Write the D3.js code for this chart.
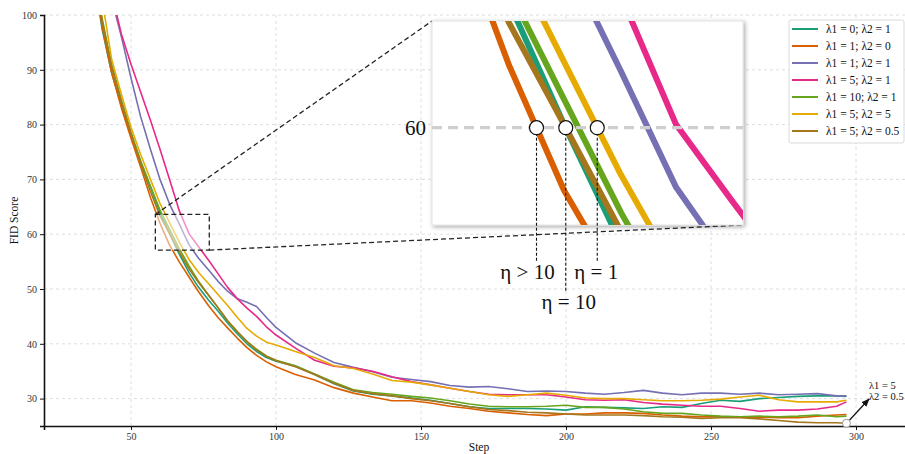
<!DOCTYPE html>
<html>
<head>
<meta charset="utf-8">
<script src="https://cdn.jsdelivr.net/npm/d3@7"></script>
<style>
  body { margin: 0; background: #fff; }
  svg text { font-family: "Liberation Serif", "DejaVu Serif", serif; }
</style>
</head>
<body>
<div id="chart"></div>
<script>
// ---- data ----
const steps = [33.3, 36.7, 40, 43.3, 46.7, 50, 53.3, 56.7, 60, 63.3, 66.7, 70, 73.3, 76.7, 80, 83.3, 86.7, 90, 93.3, 96.7, 100,
  106.7, 113.3, 120, 126.7, 133.3, 140, 146.7, 153.3, 160, 166.7, 173.3, 180, 186.7, 193.3, 200, 206.7, 213.3, 220, 226.7,
  233.3, 240, 246.7, 253.3, 260, 266.7, 273.3, 280, 286.7, 293.3, 296.7];

const seriesNames = ['λ1 = 0; λ2 = 1', 'λ1 = 1; λ2 = 0', 'λ1 = 1; λ2 = 1', 'λ1 = 5; λ2 = 1',
  'λ1 = 10; λ2 = 1', 'λ1 = 5; λ2 = 5', 'λ1 = 5; λ2 = 0.5'];

const fid_l0_1 = [124, 109, 97.5, 89.5, 83.5, 78.3, 73.3, 68.6, 64.0, 60.1, 56.3, 53.0, 50.3, 48.0, 46.0, 43.8, 41.8, 40.0, 38.6, 37.5, 36.8,
  35.9, 34.4, 32.7, 31.4, 30.8, 30.5, 30.1, 29.7, 29.1, 28.5, 28.2, 28.2, 28.2, 28.1, 27.9, 28.5, 28.4, 28.3, 28.2,
  28.5, 28.4, 29.1, 29.7, 29.5, 30.0, 30.2, 30.4, 30.5, 30.5, 30.4];
const fid_l1_0 = [125, 110, 98, 89.5, 83, 77.5, 72.3, 66.7, 62.0, 58.0, 54.9, 52.2, 49.5, 47.0, 44.8, 42.9, 41.0, 39.3, 37.9, 36.7, 35.8,
  34.4, 33.4, 32.0, 31.0, 30.3, 29.6, 29.6, 29.2, 28.6, 28.2, 27.7, 27.4, 27.1, 26.9, 27.2, 27.2, 27.4, 27.4, 27.3,
  27.0, 26.8, 26.7, 26.7, 26.6, 26.6, 26.5, 26.5, 26.8, 27.0, 27.1];
const fid_l1_1 = [140, 125, 112, 103, 96, 88.5, 81.5, 75.5, 70.0, 65.5, 61.8, 58.1, 55.6, 53.5, 51.4, 49.6, 48.2, 47.6, 46.8, 44.8, 43.0,
  40.2, 38.3, 36.6, 35.7, 34.9, 33.9, 33.5, 33.1, 32.4, 32.1, 32.2, 31.8, 31.3, 31.4, 31.3, 31.0, 30.8, 31.1, 31.5,
  31.0, 30.7, 31.0, 31.0, 30.8, 31.0, 30.7, 30.8, 30.9, 30.5, 30.5];
const fid_l5_1 = [148, 132, 118, 104, 96.5, 91.0, 86.0, 80.8, 75.5, 70.0, 64.2, 60.1, 57.7, 55.3, 52.8, 50.3, 48.2, 46.5, 45.0, 43.1, 41.6,
  39.2, 37.0, 35.9, 35.6, 35.0, 34.0, 33.1, 32.5, 31.9, 31.3, 30.8, 30.7, 30.7, 30.7, 30.3, 29.8, 29.7, 29.8, 29.3,
  29.0, 28.8, 28.6, 28.6, 28.2, 27.7, 27.9, 27.9, 28.1, 28.6, 29.4];
const fid_l10_1 = [127, 112, 99.5, 91, 84.5, 78.6, 73.4, 68.8, 64.4, 60.9, 57.3, 54.2, 51.4, 48.9, 46.6, 44.2, 42.2, 40.4, 39.0, 37.8, 37.0,
  36.0, 34.5, 33.0, 31.6, 31.1, 30.8, 30.4, 30.1, 29.6, 29.0, 28.6, 28.5, 28.5, 28.6, 28.8, 28.4, 28.4, 28.1, 27.6,
  27.3, 27.3, 27.0, 26.8, 26.7, 26.8, 26.7, 26.8, 27.0, 26.7, 26.8];
const fid_l5_5 = [131, 116, 103, 92, 85.5, 79.5, 74.6, 70.0, 65.6, 62.1, 58.5, 55.4, 53.0, 51.0, 49.0, 47.0, 44.8, 42.8, 41.4, 40.3, 39.8,
  38.6, 37.5, 36.0, 35.5, 34.5, 33.3, 33.0, 32.5, 31.9, 31.3, 30.7, 30.4, 30.7, 31.0, 30.6, 30.1, 30.0, 30.0, 29.8,
  29.6, 29.6, 29.7, 29.9, 30.3, 30.6, 29.8, 29.4, 29.4, 29.4, 29.7];
const fid_l5_05 = [126, 111, 99, 90.5, 84, 78.3, 72.9, 67.8, 63.35, 60.1, 56.7, 53.7, 51.2, 48.9, 46.6, 44.2, 42.2, 40.4, 38.9, 37.7, 36.9,
  35.8, 34.4, 32.8, 31.5, 30.9, 30.5, 30.0, 29.6, 29.1, 28.5, 28.0, 27.8, 27.5, 27.4, 27.2, 27.0, 27.0, 27.0, 26.9,
  26.7, 26.6, 26.4, 26.5, 26.5, 26.3, 26.0, 25.7, 25.6, 25.6, 25.5];

const allSeries = [fid_l0_1, fid_l1_0, fid_l1_1, fid_l5_1, fid_l10_1, fid_l5_5, fid_l5_05];

const xTicks = [50, 100, 150, 200, 250, 300];
const yTicks = [30, 40, 50, 60, 70, 80, 90, 100];

// zoom box on the main axes and the view shown in the inset
const zoomX = [58.4, 77.0], zoomY = [57.1, 63.6];
const insetX = [55.4, 74.0], insetY = [56.9, 63.4];
const etaLevel = 60;
// which series mark the eta crossings: lambda1=1/lambda2=0, lambda1=5/lambda2=0.5, lambda1=5/lambda2=5
const etaSeries = [1, 6, 5];
const etaLabels = ['η > 10', 'η = 10', 'η = 1'];

var colors = d3.schemeDark2;

// ---- build ----
var w = 905, h = 454;
var plotL = 44, plotT = 15, plotB = 426, plotR = 905.3;

var x = d3.scaleLinear().domain([20, 317]).range([plotL, plotR]);
var y = d3.scaleLinear().domain([25, 100]).range([plotB, plotT]);

var svg = d3.select('#chart').append('svg')
  .attr('width', w)
  .attr('height', h)
  .style('background', 'white');

var defs = svg.append('defs');
defs.append('clipPath').attr('id', 'plot-clip')
  .append('rect').attr('x', plotL).attr('y', plotT).attr('width', plotR - plotL).attr('height', plotB - plotT);

var shadow = defs.append('filter').attr('id', 'shadow')
  .attr('x', '-5%').attr('y', '-5%').attr('width', '110%').attr('height', '110%');
shadow.append('feDropShadow')
  .attr('dx', 1.5).attr('dy', 1.5).attr('stdDeviation', 2)
  .attr('flood-color', '#000').attr('flood-opacity', 0.35);

defs.append('marker').attr('id', 'arrow')
  .attr('viewBox', '0 0 10 10').attr('refX', 9).attr('refY', 5)
  .attr('markerWidth', 7).attr('markerHeight', 7).attr('orient', 'auto')
  .append('path').attr('d', 'M0,1 L10,5 L0,9 z').attr('fill', '#111');

// grid
svg.append('g').selectAll('line').data(xTicks).enter().append('line')
  .attr('x1', d => x(d)).attr('x2', d => x(d)).attr('y1', plotT).attr('y2', plotB)
  .attr('stroke', '#d6d6d6').attr('stroke-width', 0.8).attr('stroke-dasharray', '3,3');
svg.append('g').selectAll('line').data(yTicks).enter().append('line')
  .attr('x1', plotL).attr('x2', plotR).attr('y1', d => y(d)).attr('y2', d => y(d))
  .attr('stroke', '#d6d6d6').attr('stroke-width', 0.8).attr('stroke-dasharray', '3,3');

// lines
var line = d3.line()
  .x(d => x(d[0]))
  .y(d => y(d[1]));

function pts(vals) { return steps.map((s, i) => [s, vals[i]]); }

svg.append('g').attr('clip-path', 'url(#plot-clip)')
  .selectAll('path').data(allSeries).enter().append('path')
  .attr('d', d => line(pts(d)))
  .attr('fill', 'none')
  .attr('stroke', (d, i) => colors[i])
  .attr('stroke-width', 1.6)
  .attr('stroke-linejoin', 'round');

// axes
var xAxis = svg.append('g').attr('transform', 'translate(0,' + plotB + ')')
  .call(d3.axisBottom(x).tickValues(xTicks).tickSize(4).tickPadding(3));
var yAxis = svg.append('g').attr('transform', 'translate(' + plotL + ',0)')
  .call(d3.axisLeft(y).tickValues(yTicks).tickSize(4).tickPadding(3));
[xAxis, yAxis].forEach(function(a) {
  a.select('.domain').attr('stroke', '#111').attr('stroke-width', 1.6);
  a.selectAll('.tick line').attr('stroke', '#111');
  a.selectAll('.tick text').attr('font-size', '10px').attr('fill', '#333')
    .style('font-family', '"Liberation Serif", serif');
});

svg.append('text').text('FID Score')
  .attr('transform', 'translate(18,' + ((plotT + plotB) / 2) + ') rotate(-90)')
  .attr('text-anchor', 'middle').attr('font-size', '11.5px').attr('fill', '#111');
svg.append('text').text('Step')
  .attr('x', 479).attr('y', 451)
  .attr('text-anchor', 'middle').attr('font-size', '11.5px').attr('fill', '#111');

// zoom box + connectors
var bx0 = x(zoomX[0]), bx1 = x(zoomX[1]), by0 = y(zoomY[1]), by1 = y(zoomY[0]);
svg.append('rect')
  .attr('x', bx0).attr('y', by0).attr('width', bx1 - bx0).attr('height', by1 - by0)
  .attr('fill', 'white').attr('fill-opacity', 0.5)
  .attr('stroke', '#222').attr('stroke-width', 1.3).attr('stroke-dasharray', '5,3');

// inset
var ix = d3.scaleLinear().domain(insetX).range([432, 743]);
var iy = d3.scaleLinear().domain(insetY).range([225, 21]);

svg.append('line').attr('x1', bx0).attr('y1', by0).attr('x2', 432).attr('y2', 21)
  .attr('stroke', '#222').attr('stroke-width', 1.3).attr('stroke-dasharray', '5,3');
svg.append('line').attr('x1', bx1).attr('y1', by1).attr('x2', 743).attr('y2', 225)
  .attr('stroke', '#222').attr('stroke-width', 1.3).attr('stroke-dasharray', '5,3');

defs.append('clipPath').attr('id', 'inset-clip')
  .append('rect').attr('x', 432).attr('y', 21).attr('width', 311).attr('height', 204);

var inset = svg.append('g');
inset.append('rect')
  .attr('x', 432).attr('y', 21).attr('width', 311).attr('height', 204)
  .attr('fill', 'white').attr('stroke', '#e2e2e2').attr('stroke-width', 1)
  .attr('filter', 'url(#shadow)');

var iline = d3.line().x(d => ix(d[0])).y(d => iy(d[1]));
inset.append('g').attr('clip-path', 'url(#inset-clip)')
  .selectAll('path').data(allSeries).enter().append('path')
  .attr('d', d => iline(pts(d)))
  .attr('fill', 'none')
  .attr('stroke', (d, i) => colors[i])
  .attr('stroke-width', 6)
  .attr('stroke-linejoin', 'round');

inset.append('line')
  .attr('x1', 432).attr('x2', 743).attr('y1', iy(etaLevel)).attr('y2', iy(etaLevel))
  .attr('stroke', '#cfcfcf').attr('stroke-width', 3.2).attr('stroke-dasharray', '10,6');

svg.append('text').text(etaLevel)
  .attr('x', 426).attr('y', iy(etaLevel)).attr('dy', '0.35em')
  .attr('text-anchor', 'end').attr('font-size', '21px').attr('fill', '#111');

// crossing of the 60 level, by linear interpolation of the series
function crossing(vals, level) {
  for (var i = 0; i < vals.length - 1; i++) {
    if (vals[i] >= level && vals[i + 1] < level) {
      var t = (vals[i] - level) / (vals[i] - vals[i + 1]);
      return steps[i] + t * (steps[i + 1] - steps[i]);
    }
  }
  return null;
}

var etaX = etaSeries.map(k => crossing(allSeries[k], etaLevel));
var labelDx = [-9, 3, -1];
var drop = [135, 165, 135];

etaX.forEach(function(s, k) {
  var cx = ix(s), cy = iy(etaLevel);
  svg.append('line')
    .attr('x1', cx).attr('x2', cx).attr('y1', cy).attr('y2', cy + drop[k])
    .attr('stroke', '#111').attr('stroke-width', 1.1).attr('stroke-dasharray', '3,2');
  svg.append('circle')
    .attr('cx', cx).attr('cy', cy).attr('r', 7)
    .attr('fill', 'white').attr('stroke', '#111').attr('stroke-width', 1.2);
  svg.append('text').text(etaLabels[k])
    .attr('x', cx + labelDx[k]).attr('y', cy + drop[k] + 16)
    .attr('text-anchor', 'middle').attr('font-size', '21px').attr('fill', '#111');
});

// end annotation
var last = steps.length - 1;
var ex = x(steps[last]), ey = y(fid_l5_05[last]);
svg.append('line')
  .attr('x1', ex + 3).attr('y1', ey - 3).attr('x2', 869).attr('y2', 399)
  .attr('stroke', '#111').attr('stroke-width', 1.2).attr('marker-end', 'url(#arrow)');
svg.append('circle').attr('cx', ex).attr('cy', ey).attr('r', 4)
  .attr('fill', 'white').attr('stroke', '#999').attr('stroke-width', 1);
svg.append('text').attr('x', 869).attr('y', 389)
  .attr('font-size', '10.5px').attr('fill', '#111').text('λ1 = 5');
svg.append('text').attr('x', 869).attr('y', 400)
  .attr('font-size', '10.5px').attr('fill', '#111').text('λ2 = 0.5');

// legend
var legend = svg.append('g').attr('transform', 'translate(789,20)');
legend.append('rect')
  .attr('width', 115).attr('height', 123).attr('rx', 2)
  .attr('fill', 'white').attr('stroke', '#d0d0d0').attr('stroke-width', 0.8);
var item = legend.selectAll('g.item').data(seriesNames).enter().append('g')
  .attr('class', 'item')
  .attr('transform', (d, i) => 'translate(0,' + (9 + i * 17) + ')');
item.append('line')
  .attr('x1', 3).attr('x2', 29).attr('y1', 0).attr('y2', 0)
  .attr('stroke', (d, i) => colors[i]).attr('stroke-width', 2);
item.append('text').text(d => d)
  .attr('x', 37).attr('dy', '0.35em')
  .attr('font-size', '11.5px').attr('fill', '#111');
</script>
</body>
</html>
